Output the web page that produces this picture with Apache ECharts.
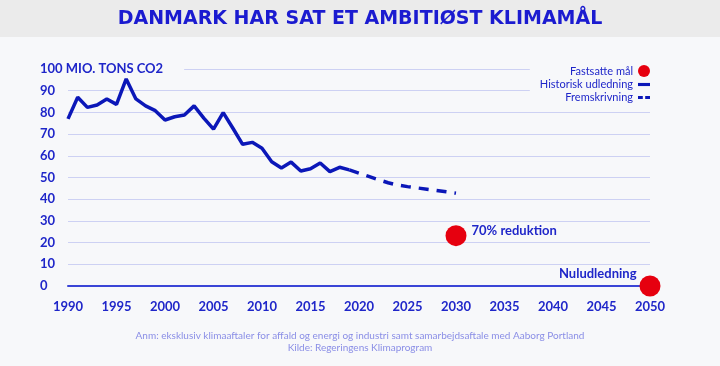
<!DOCTYPE html>
<html><head><meta charset="utf-8">
<script src="https://cdn.jsdelivr.net/npm/echarts@6/dist/echarts.min.js"></script>
<style>html,body{margin:0;padding:0;background:#f7f8fa}#c{width:720px;height:366px}</style>
</head><body><div id="c"></div>
<script>
const histYears = [1990,1991,1992,1993,1994,1995,1996,1997,1998,1999,2000,2001,2002,2003,2004,2005,2006,2007,2008,2009,2010,2011,2012,2013,2014,2015,2016,2017,2018,2019];
const histValues = [77,87,82.3,83.4,86.2,83.7,95.4,86.2,83,80.8,76.5,78,78.8,83,77.4,72.3,79.9,72.7,65.3,66.2,63.5,57.3,54.4,57.1,53,54,56.7,52.7,54.7,53.5];
const projYears = [2019,2020,2021,2022,2023,2024,2025,2026,2027,2028,2029,2030];
const projValues = [53.5,52,50.5,49,47.6,46.5,45.8,45.2,44.6,44,43.4,42.8];
const targetYears = [2030,2050];
const targetValues = [23.2,0];
const targetLabels = ['70% reduktion','Nuludledning'];
const yTicks = [0,10,20,30,40,50,60,70,80,90,100];

const BG = '#f7f8fa';
const BLUE = '#0b17b8';
const TXT = '#1f26c9';
const RED = '#e6000f';
const FONT = 'Lato';

const chart = echarts.init(document.getElementById('c'));
chart.setOption({
  backgroundColor: BG,
  animation: false,
  graphic: [
    {type:'rect', left:0, top:0, shape:{width:720, height:37}, style:{fill:'#ebebeb'}, z:-1},
    {type:'text', left:'center', top:10, style:{text:'DANMARK HAR SAT ET AMBITIØST KLIMAMÅL', fill:'#1b1bd0', font:'bold 19px "DejaVu Sans"'}},
    {type:'text', x:360, y:331, style:{text:'Anm: eksklusiv klimaaftaler for affald og energi og industri samt samarbejdsaftale med Aaborg Portland', fill:'#8a8ee6', font:'10px Lato', align:'center'}},
    {type:'text', x:360, y:343, style:{text:'Kilde: Regeringens Klimaprogram', fill:'#8a8ee6', font:'10px Lato', align:'center'}}
  ],
  legend: {
    orient: 'vertical', right: 62, top: 63, align: 'right',
    itemWidth: 12, itemHeight: 12, itemGap: 2, symbolKeepAspect: true,
    backgroundColor: BG, padding: [2, 8, 4, 10],
    textStyle: {color: TXT, fontFamily: FONT, fontSize: 11},
    data: [
      {name:'Fastsatte mål', icon:'circle', itemStyle:{color: RED}},
      {name:'Historisk udledning', icon:'path://M0,0H10V2.6H0Z', itemStyle:{color: BLUE}},
      {name:'Fremskrivning', icon:'path://M0,0H4V2.6H0ZM6,0H10V2.6H6Z', itemStyle:{color: BLUE}}
    ]
  },
  grid: {left: 68, right: 70, top: 69, bottom: 80},
  xAxis: {
    type: 'value', min: 1990, max: 2050, interval: 5,
    axisLine: {show: true, onZero: true, lineStyle: {color: '#3a45d6', width: 2}},
    axisTick: {show: false}, splitLine: {show: false},
    axisLabel: {color: TXT, fontFamily: FONT, fontWeight: 'bold', fontSize: 13, margin: 14, formatter: v => String(v)}
  },
  yAxis: {
    type: 'value', min: 0, max: 100, interval: 10,
    axisLine: {show: false}, axisTick: {show: false},
    splitLine: {lineStyle: {color: '#cdd1f3', width: 1}},
    axisLabel: {
      align: 'left', margin: 28, color: TXT, fontFamily: FONT, fontWeight: 'bold', fontSize: 13,
      formatter: v => yTicks.includes(v) ? (v === 100 ? '{u|100 MIO. TONS CO2}' : String(v)) : '',
      rich: {u: {color: TXT, fontFamily: FONT, fontWeight: 'bold', fontSize: 13, backgroundColor: BG, padding: [2, 21, 2, 0]}}
    }
  },
  series: [
    {
      name: 'Historisk udledning', type: 'line',
      data: histYears.map((y, i) => [y, histValues[i]]),
      symbol: 'none', lineStyle: {color: BLUE, width: 3.5}, itemStyle: {color: BLUE}
    },
    {
      name: 'Fremskrivning', type: 'line',
      data: projYears.map((y, i) => [y, projValues[i]]),
      symbol: 'none', lineStyle: {color: BLUE, width: 3.5, type: [10, 8]}, itemStyle: {color: BLUE}
    },
    {
      name: 'Fastsatte mål', type: 'scatter', clip: false, z: 5,
      data: targetYears.map((y, i) => ({
        value: [y, targetValues[i]],
        label: i === 0
          ? {show: true, formatter: targetLabels[i], position: [26, 6], align: 'left', verticalAlign: 'middle'}
          : {show: true, formatter: targetLabels[i], position: [-3, -2], align: 'right', verticalAlign: 'middle'}
      })),
      symbolSize: 21,
      itemStyle: {color: RED, opacity: 1},
      label: {color: TXT, fontFamily: FONT, fontWeight: 'bold', fontSize: 13}
    }
  ]
});
</script></body></html>
